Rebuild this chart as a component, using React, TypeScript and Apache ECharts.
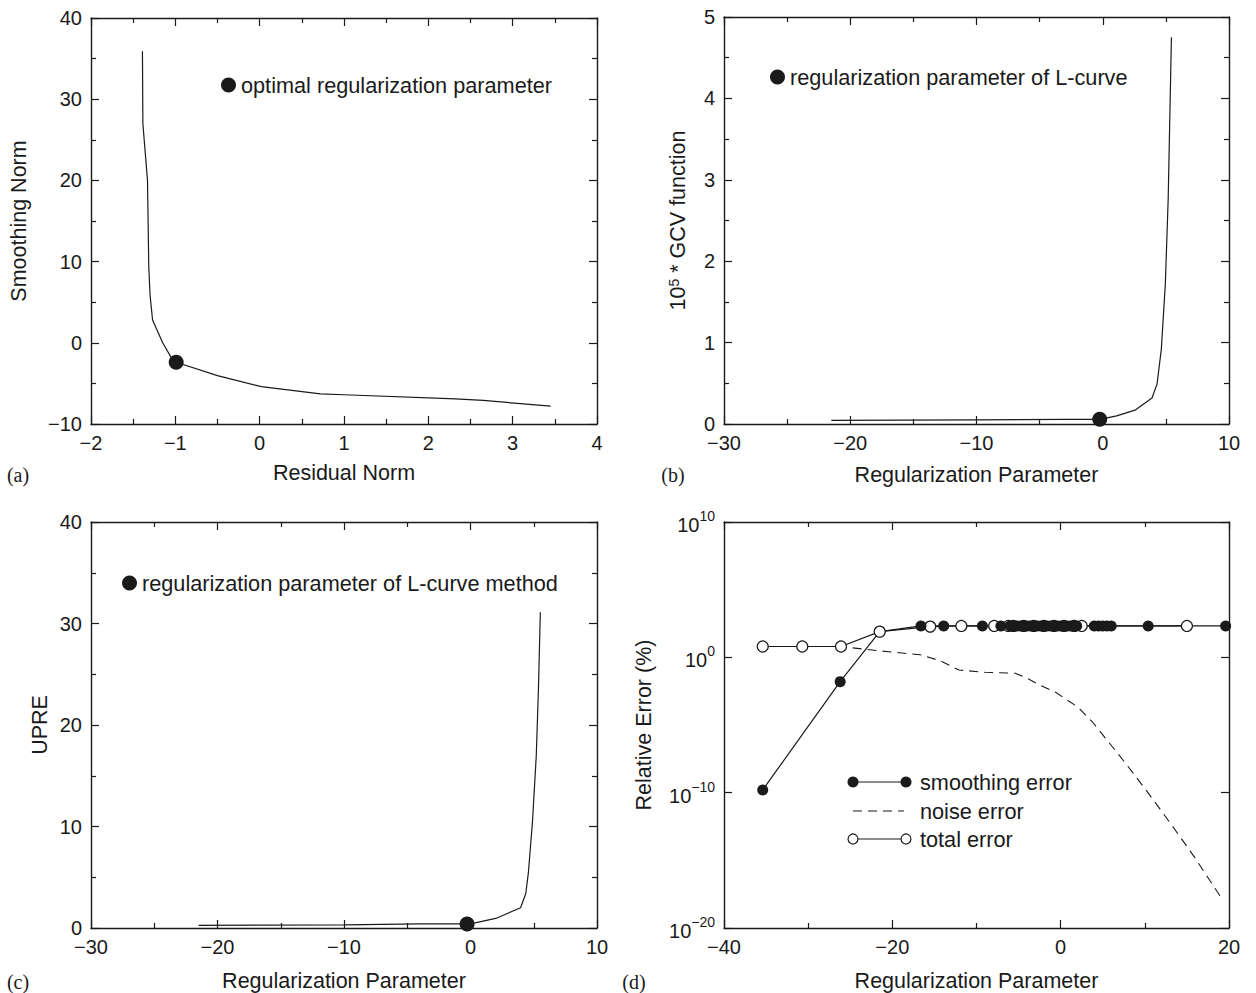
import React, { useEffect, useRef } from "react";
import * as echarts from "echarts";

// ---------- Panel (a): L-curve ----------
const aResidualNorm = [-1.39, -1.385, -1.33, -1.315, -1.3, -1.27, -1.15, -1.05, -0.99, -0.5, 0.02, 0.72, 1.0, 2.32, 2.65, 3.45];
const aSmoothingNorm = [35.9, 27, 20, 9.4, 5.9, 2.8, 0, -1.8, -2.4, -4.05, -5.4, -6.3, -6.4, -6.9, -7.1, -7.8];
const aOptimal = [-0.99, -2.4];

// ---------- Panel (b): GCV ----------
const bRegParam = [-21.5, -10, -2.9, -0.24, 1.1, 2.55, 3.9, 4.3, 4.64, 4.96, 5.18, 5.44];
const bGCV = [0.045, 0.05, 0.057, 0.057, 0.1, 0.17, 0.32, 0.49, 0.92, 1.73, 2.75, 4.75];
const bLcurve = [-0.24, 0.057];

// ---------- Panel (c): UPRE ----------
const cRegParam = [-21.5, -10, -4.0, -0.27, 0.36, 2.08, 3.96, 4.37, 4.58, 4.9, 5.2, 5.37, 5.52];
const cUPRE = [0.26, 0.3, 0.4, 0.4, 0.5, 0.98, 2.0, 3.4, 5.5, 10.5, 17, 23.5, 31.1];
const cLcurve = [-0.27, 0.4];

// ---------- Panel (d): relative errors ----------
const dSmoothX = [-35.4, -26.2, -21.5, -16.6, -13.9, -9.3, -7.1, -6.0, -5.6, -5.2, -4.8, -4.4, -4.0, -3.6, -3.2, -2.8, -2.4, -2.0, -1.6, -1.2, -0.8, -0.4, 0, 0.4, 0.8, 1.2, 1.6, 1.9, 4.0, 4.5, 5.0, 5.5, 6.0, 10.4, 19.6];
const dSmoothY = [1.6e-10, 0.016, 79, 209, 209, 209, 209, 209, 209, 209, 209, 209, 209, 209, 209, 209, 209, 209, 209, 209, 209, 209, 209, 209, 209, 209, 209, 209, 209, 209, 209, 209, 209, 209, 209];
const dSmoothHiddenAt = [-21.5];
const dNoiseX = [-35.4, -26.2, -21.5, -16.7, -14.3, -12.1, -9.0, -5.4, -4.2, -2.3, -0.6, 2.1, 3.8, 5.7, 7.9, 10.3, 13.2, 16.0, 19.1];
const dNoiseY = [6.3, 6.3, 3.0, 1.55, 0.56, 0.115, 0.079, 0.066, 0.033, 0.0081, 0.0026, 2.0e-4, 1.6e-5, 5.5e-7, 1.05e-8, 1.15e-10, 4.0e-13, 1.4e-15, 1.6e-18];
const dTotalX = [-35.4, -30.7, -26.1, -21.5, -15.5, -11.8, -7.9, -6.2, -5.6, -4.4, -3.2, -2.0, -0.8, 0.4, 1.6, 2.5, 15.0];
const dTotalY = [6.3, 6.3, 6.3, 79, 186, 209, 209, 209, 209, 209, 209, 209, 209, 209, 209, 209, 209];

// ---------- Axis ranges ----------
const aX = { min: -2, max: 4, interval: 1 };
const aY = { min: -10, max: 40, interval: 10 };
const bX = { min: -30, max: 10, interval: 10 };
const bY = { min: 0, max: 5, interval: 1 };
const cX = { min: -30, max: 10, interval: 10 };
const cY = { min: 0, max: 40, interval: 10 };
const dX = { min: -40, max: 20, interval: 20 };
const dY = { min: 1e-20, max: 1e10 };

const FONT = '"Liberation Sans", Arial, Helvetica, sans-serif';
const SERIF = '"Liberation Serif", "Times New Roman", serif';
const INK = "#1a1a1a";
const NAME_SIZE = 21.5;
const LEG_SIZE = 21.7;

const zip = (xs: number[], ys: number[]) => xs.map((x, i) => [x, ys[i]]);
const minus = (v: number) => String(v).replace("-", "\u2212");

function makeAxis(gridIndex: number, position: string, cfg: any, labels: boolean, extra: any = {}) {
  const isLog = cfg.type === "log";
  return {
    type: isLog ? "log" : "value",
    gridIndex,
    position,
    min: cfg.min,
    max: cfg.max,
    ...(isLog ? { logBase: 10 } : { interval: cfg.interval }),
    axisLine: { show: true, onZero: false, lineStyle: { color: INK, width: 1.4 } },
    axisTick: { show: true, inside: true, length: 8, lineStyle: { color: INK, width: 1.2 } },
    minorTick: isLog
      ? { show: false }
      : { show: true, splitNumber: 2, length: 5, lineStyle: { color: INK, width: 1.2 } },
    splitLine: { show: false },
    axisLabel: labels
      ? {
          show: true,
          margin: 9,
          color: INK,
          fontSize: 20,
          fontFamily: FONT,
          formatter: cfg.formatter || ((v: number) => minus(v)),
          rich: cfg.rich,
        }
      : { show: false },
    ...extra,
  };
}

function nameOpts(name: string, gap: number, rich?: any) {
  return {
    name,
    nameLocation: "middle",
    nameGap: gap,
    nameTextStyle: { fontSize: NAME_SIZE, color: INK, fontFamily: FONT, rich },
  };
}

const supRich = {
  b: { fontSize: 20, fontFamily: FONT, color: INK, lineHeight: 26, verticalAlign: "bottom" },
  s: { fontSize: 14, fontFamily: FONT, color: INK, lineHeight: 14, verticalAlign: "top" },
};

const logFormatter = (v: number) => {
  const e = Math.round(Math.log10(v));
  return "{b|10}{s|" + minus(e) + "}";
};

const lineStyle = { color: INK, width: 1.2 };

function legendAt(name: string, left: number, top: number) {
  return {
    data: [name],
    left,
    top,
    padding: 0,
    itemGap: 0,
    icon: "circle",
    itemWidth: 15,
    itemHeight: 15,
    selectedMode: false,
    textStyle: { fontSize: LEG_SIZE, color: INK, fontFamily: FONT },
  };
}

export default function App() {
  const ref = useRef<HTMLDivElement>(null);
  useEffect(() => {
    if (!ref.current) return;
    const chart = echarts.init(ref.current, undefined, { renderer: "svg" });

    const grids = [
      { left: 91, top: 18, width: 506, height: 406 },
      { left: 724, top: 17, width: 505, height: 407 },
      { left: 91, top: 522, width: 506, height: 407 },
      { left: 724, top: 522, width: 505, height: 407 },
    ];

    const xAxis = [
      makeAxis(0, "bottom", aX, true, nameOpts("Residual Norm", 38)),
      makeAxis(0, "top", aX, false),
      makeAxis(1, "bottom", bX, true, nameOpts("Regularization Parameter", 40)),
      makeAxis(1, "top", bX, false),
      makeAxis(2, "bottom", cX, true, nameOpts("Regularization Parameter", 42)),
      makeAxis(2, "top", cX, false),
      makeAxis(3, "bottom", dX, true, nameOpts("Regularization Parameter", 42)),
      makeAxis(3, "top", dX, false),
    ];
    const dYcfg = { ...dY, type: "log", formatter: logFormatter, rich: supRich };
    const yAxis = [
      makeAxis(0, "left", aY, true, nameOpts("Smoothing Norm", 61)),
      makeAxis(0, "right", aY, false),
      makeAxis(1, "left", bY, true, nameOpts("10{s|5} * GCV function", 35, { s: { fontSize: 14, fontFamily: FONT, color: INK, lineHeight: 14, verticalAlign: "top" } })),
      makeAxis(1, "right", bY, false),
      makeAxis(2, "left", cY, true, nameOpts("UPRE", 40)),
      makeAxis(2, "right", cY, false),
      makeAxis(3, "left", dYcfg, true, nameOpts("Relative Error (%)", 69)),
      makeAxis(3, "right", dYcfg, false),
    ];

    const smoothData = zip(dSmoothX, dSmoothY).map((p) =>
      dSmoothHiddenAt.includes(p[0]) ? { value: p, symbol: "none" } : { value: p }
    );

    const dot = { color: INK, opacity: 1 };
    const series: any[] = [
      { name: "L-curve", type: "line", xAxisIndex: 0, yAxisIndex: 0, data: zip(aResidualNorm, aSmoothingNorm), symbol: "none", lineStyle },
      { name: "optimal regularization parameter", type: "scatter", xAxisIndex: 0, yAxisIndex: 0, data: [aOptimal], symbolSize: 15, itemStyle: dot },
      { name: "GCV function", type: "line", xAxisIndex: 2, yAxisIndex: 2, data: zip(bRegParam, bGCV), symbol: "none", lineStyle },
      { name: "regularization parameter of L-curve", type: "scatter", xAxisIndex: 2, yAxisIndex: 2, data: [bLcurve], symbolSize: 15, itemStyle: dot },
      { name: "UPRE", type: "line", xAxisIndex: 4, yAxisIndex: 4, data: zip(cRegParam, cUPRE), symbol: "none", lineStyle },
      { name: "regularization parameter of L-curve method", type: "scatter", xAxisIndex: 4, yAxisIndex: 4, data: [cLcurve], symbolSize: 15, itemStyle: dot },
      { name: "noise error", type: "line", xAxisIndex: 6, yAxisIndex: 6, data: zip(dNoiseX, dNoiseY), symbol: "none", lineStyle: { color: INK, width: 1.1, type: [9, 6] } },
      { name: "total error", type: "line", xAxisIndex: 6, yAxisIndex: 6, data: zip(dTotalX, dTotalY), symbol: "circle", symbolSize: 11, showAllSymbol: true, itemStyle: { color: "#fff", borderColor: INK, borderWidth: 1.2, opacity: 1 }, lineStyle },
      { name: "smoothing error", type: "line", xAxisIndex: 6, yAxisIndex: 6, data: smoothData, symbol: "circle", symbolSize: 11, showAllSymbol: true, itemStyle: dot, lineStyle },
    ];

    const legY = [782, 811, 839];
    const legFont = LEG_SIZE + "px " + FONT;
    const graphic: any[] = [
      { type: "text", x: 18, y: 475, style: { text: "(a)", font: "20px " + SERIF, fill: INK, textAlign: "center", textVerticalAlign: "middle" } },
      { type: "text", x: 673, y: 475, style: { text: "(b)", font: "20px " + SERIF, fill: INK, textAlign: "center", textVerticalAlign: "middle" } },
      { type: "text", x: 18, y: 982, style: { text: "(c)", font: "20px " + SERIF, fill: INK, textAlign: "center", textVerticalAlign: "middle" } },
      { type: "text", x: 634, y: 982, style: { text: "(d)", font: "20px " + SERIF, fill: INK, textAlign: "center", textVerticalAlign: "middle" } },
      // legend of panel (d)
      { type: "line", shape: { x1: 853, y1: legY[0], x2: 906, y2: legY[0] }, style: { stroke: INK, lineWidth: 1.2 } },
      { type: "circle", shape: { cx: 853, cy: legY[0], r: 5.5 }, style: { fill: INK } },
      { type: "circle", shape: { cx: 906, cy: legY[0], r: 5.5 }, style: { fill: INK } },
      { type: "text", x: 920, y: legY[0], style: { text: "smoothing error", font: legFont, fill: INK, textVerticalAlign: "middle" } },
      { type: "line", shape: { x1: 853, y1: legY[1], x2: 904, y2: legY[1] }, style: { stroke: INK, lineWidth: 1.1, lineDash: [9, 6] } },
      { type: "text", x: 920, y: legY[1], style: { text: "noise error", font: legFont, fill: INK, textVerticalAlign: "middle" } },
      { type: "line", shape: { x1: 853, y1: legY[2], x2: 906, y2: legY[2] }, style: { stroke: INK, lineWidth: 1.2 } },
      { type: "circle", shape: { cx: 853, cy: legY[2], r: 5 }, style: { fill: "#fff", stroke: INK, lineWidth: 1.2 } },
      { type: "circle", shape: { cx: 906, cy: legY[2], r: 5 }, style: { fill: "#fff", stroke: INK, lineWidth: 1.2 } },
      { type: "text", x: 920, y: legY[2], style: { text: "total error", font: legFont, fill: INK, textVerticalAlign: "middle" } },
    ];

    chart.setOption({
      animation: false,
      backgroundColor: "#fff",
      textStyle: { fontFamily: FONT },
      grid: grids,
      xAxis,
      yAxis,
      legend: [
        legendAt("optimal regularization parameter", 221, 74),
        legendAt("regularization parameter of L-curve", 770, 66),
        legendAt("regularization parameter of L-curve method", 122, 572),
      ],
      series,
      graphic,
    });
    return () => chart.dispose();
  }, []);

  return (
    <div
      ref={ref}
      style={{ position: "absolute", left: 0, top: 0, width: 1256, height: 993, background: "#fff" }}
    />
  );
}
